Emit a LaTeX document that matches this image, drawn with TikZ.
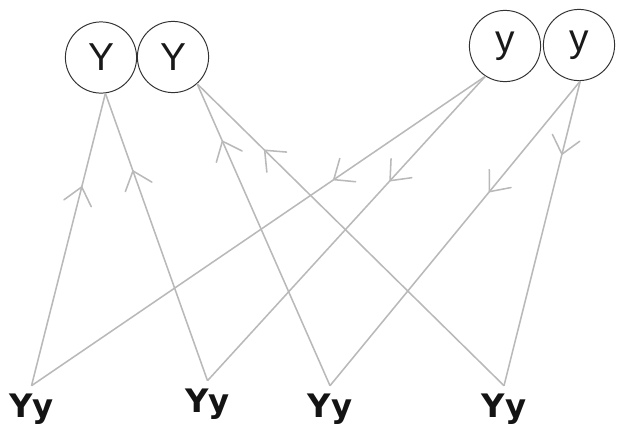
\documentclass[tikz,border=0pt]{standalone}
\usepackage{fontspec}
\setmainfont{Liberation Sans}
\newfontfamily\dvsans{DejaVu Sans}
\usetikzlibrary{decorations.markings}
\definecolor{linegray}{RGB}{185,185,185}
\definecolor{circgray}{RGB}{50,50,50}
\tikzset{
  allele/.style={circle, draw=circgray, line width=0.7pt, minimum size=1.78cm, inner sep=0pt,
    font=\fontsize{27.7}{30}\selectfont, text=black!90},
  geno/.style={inner sep=0pt, outer sep=5.5pt, anchor=base,
    font=\dvsans\bfseries\fontsize{23}{26}\selectfont, text=black!92},
  con/.style={draw=linegray, line width=1.1pt},
  midarrow/.style={postaction={decorate, decoration={markings,
    mark=at position #1 with {\draw[linegray, line width=1.1pt, line cap=round] (-12pt,10pt) -- (0,0) -- (-12pt,-10pt);}}}}
}
\begin{document}
\begin{tikzpicture}[x=0.025cm, y=-0.025cm]
\useasboundingbox (0,0) rectangle (617,430);
% parent gametes
\node[allele] (Y1) at (101,57.5) {Y};
\node[allele] (Y2) at (173,57) {Y};
\node[allele] (y1) at (505,46) {y};
\node[allele] (y2) at (579,45) {y};
% offspring
\node[geno] (G1) at (31.5,417) {Yy};
\node[geno] (G2) at (207.5,412) {Yy};
\node[geno] (G3) at (330,417) {Yy};
\node[geno] (G4) at (504,417) {Yy};
% connectors from Y (arrows pointing up)
\draw[con, midarrow=0.68] (G1.north) -- (Y1.-83);
\draw[con, midarrow=0.73] (G2.north) -- (Y1.-83);
\draw[con, midarrow=0.81] (G3.north) -- (Y2.-48);
\draw[con, midarrow=0.78] (G4.north) -- (Y2.-48);
% connectors from y (arrows pointing down)
\draw[con, midarrow=0.334] (y1.-123) -- (G1.north);
\draw[con, midarrow=0.343] (y1.-123) -- (G2.north);
\draw[con, midarrow=0.363] (y2.-88) -- (G3.north);
\draw[con, midarrow=0.24] (y2.-88) -- (G4.north);
\end{tikzpicture}
\end{document}
